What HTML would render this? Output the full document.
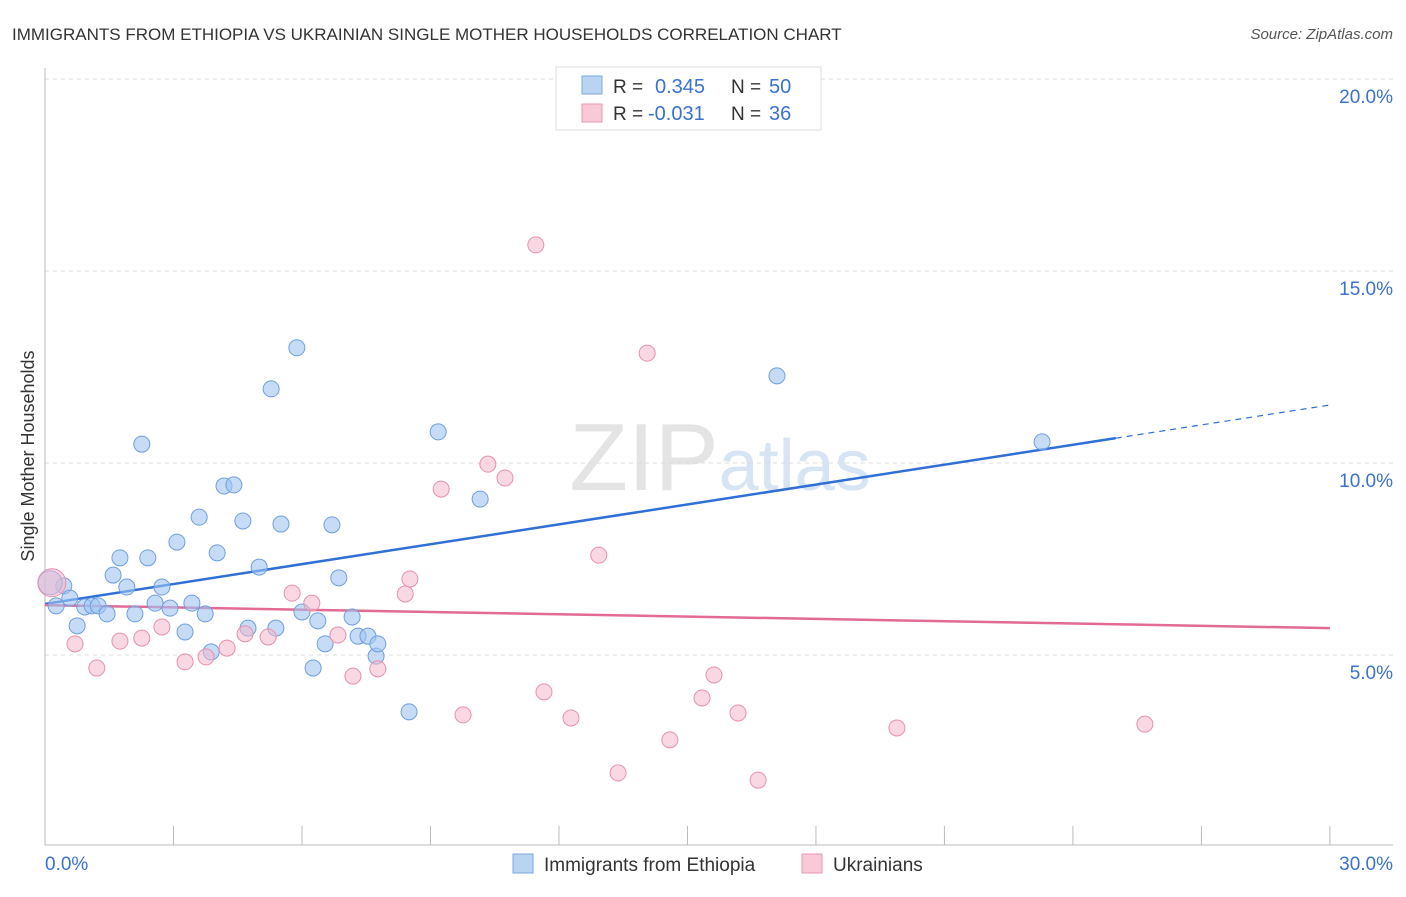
<!DOCTYPE html>
<html><head><meta charset="utf-8"><style>
body{margin:0;background:#fff;font-family:"Liberation Sans",sans-serif}
svg text{font-family:"Liberation Sans",sans-serif}
</style></head><body>
<svg id="chart" width="1406" height="892">
<text x="12" y="40" font-size="17" fill="#333">IMMIGRANTS FROM ETHIOPIA VS UKRAINIAN SINGLE MOTHER HOUSEHOLDS CORRELATION CHART</text>
<text x="1393" y="39" font-size="15" fill="#555" font-style="italic" text-anchor="end">Source: ZipAtlas.com</text>
<text x="720" y="490" font-size="96" fill="#e4e4e4" text-anchor="middle" font-family="Liberation Serif">ZIP<tspan fill="#d6e4f4" font-family="Liberation Sans" font-size="72">atlas</tspan></text>
<text transform="translate(34,456) rotate(-90)" font-size="18" fill="#333" text-anchor="middle">Single Mother Households</text>
<g id="grid"></g><g id="axes"></g><g id="trends"></g><g id="points"></g>
<g>
<rect x="556" y="67" width="265" height="63" fill="#fff" stroke="#ddd"/>
<rect x="582" y="76" width="20" height="18" fill="#b9d3f3" stroke="#7aa8e0"/>
<text x="613" y="93" font-size="19" fill="#333">R =</text><text x="655" y="93" font-size="20" fill="#3a72d0">0.345</text>
<text x="731" y="93" font-size="19" fill="#333">N =</text><text x="769" y="93" font-size="20" fill="#3a72d0">50</text>
<rect x="582" y="104" width="20" height="18" fill="#f9c9d7" stroke="#e898b0"/>
<text x="613" y="120" font-size="19" fill="#333">R =</text><text x="648" y="120" font-size="20" fill="#3a72d0">-0.031</text>
<text x="731" y="120" font-size="19" fill="#333">N =</text><text x="769" y="120" font-size="20" fill="#3a72d0">36</text>
</g>
<g>
<rect x="513" y="854" width="20" height="19" fill="#b9d3f3" stroke="#7aa8e0"/>
<text x="544" y="871" font-size="19" fill="#333">Immigrants from Ethiopia</text>
<rect x="802" y="854" width="20" height="19" fill="#f9c9d7" stroke="#e898b0"/>
<text x="833" y="871" font-size="19" fill="#333">Ukrainians</text>
</g>
</svg>
<script>
const blueX=[0.26,0.44,0.58,0.75,0.93,1.10,1.24,1.45,1.59,1.75,1.91,2.10,2.26,2.40,2.57,2.73,2.92,3.08,3.27,3.43,3.60,3.74,3.88,4.02,4.18,4.41,4.62,4.74,5.00,5.28,5.39,5.51,5.88,6.00,6.26,6.37,6.54,6.70,6.86,7.17,7.31,7.54,7.73,7.77,8.50,9.18,10.16,17.09,23.28,0.12];
const blueY=[6.28,6.80,6.48,5.76,6.25,6.28,6.28,6.07,7.08,7.53,6.77,6.07,10.49,7.53,6.35,6.77,6.22,7.94,5.60,6.35,8.59,6.07,5.08,7.66,9.40,9.43,8.49,5.70,7.29,11.93,5.70,8.41,13.0,6.12,4.66,5.89,5.29,8.39,7.01,5.99,5.49,5.49,4.97,5.29,3.52,10.81,9.06,12.27,10.55,6.88];
const pinkX=[0.16,0.70,1.21,1.75,2.26,2.73,3.27,3.76,4.25,4.67,5.21,5.77,6.23,6.84,7.19,7.77,8.41,8.52,9.25,9.76,10.34,10.74,11.46,11.65,12.28,12.93,13.38,14.06,14.59,15.34,15.62,16.18,16.65,19.89,25.68,13.80];
const pinkY=[6.88,5.29,4.66,5.36,5.44,5.73,4.82,4.95,5.18,5.55,5.47,6.61,6.35,5.52,4.45,4.64,6.59,6.98,9.32,3.44,9.97,9.61,15.68,4.04,3.36,7.60,1.93,12.86,2.79,3.88,4.48,3.49,1.74,3.10,3.20,19.27];
const blueTrend=[6.33,11.51];
const pinkTrend=[6.30,5.70];
const yTicks=[5,10,15,20];
const xTicks=[0,3,6,9,12,15,18,21,24,27,30];
const X=v=>45+v*42.83, Y=v=>847-v*38.4;
const NS="http://www.w3.org/2000/svg";
function mk(tag,attrs,parent){const e=document.createElementNS(NS,tag);for(const k in attrs)e.setAttribute(k,attrs[k]);document.getElementById(parent).appendChild(e);return e;}
yTicks.forEach(t=>{
 const l=mk('line',{x1:45,x2:1393,y1:Y(t),y2:Y(t),stroke:'#ddd','stroke-dasharray':'4,4'},'grid');
 
 
 const tx=mk('text',{x:1393,y:Y(t)+24,'font-size':19,fill:'#3a72d0','text-anchor':'end'},'grid');
 tx.textContent=t.toFixed(1)+'%';
 
 
});
const ax=mk('line',{x1:45,x2:1393,y1:845,y2:845,stroke:'#bbb'},'axes');


const ay=mk('line',{x1:45,x2:45,y1:68,y2:845,stroke:'#bbb'},'axes');


xTicks.forEach(t=>{
 const l=mk('line',{x1:X(t),x2:X(t),y1:826,y2:845,stroke:'#bbb'},'axes');
 
 
});
[[0,'0.0%','start',45],[30,'30.0%','end',1393]].forEach(a=>{
 const tx=mk('text',{x:a[3],y:870,'font-size':19,fill:'#3a72d0','text-anchor':a[2]},'axes');
 tx.textContent=a[1];
 
 
});
const b1=mk('line',{x1:X(0),y1:Y(blueTrend[0]),x2:X(25),y2:Y(blueTrend[0]+(blueTrend[1]-blueTrend[0])*25/30),stroke:'#2f6fd6','stroke-width':2.5},'trends');


const b2=mk('line',{x1:X(25),y1:Y(blueTrend[0]+(blueTrend[1]-blueTrend[0])*25/30),x2:X(30),y2:Y(blueTrend[1]),stroke:'#2f6fd6','stroke-width':1.2,'stroke-dasharray':'6,5'},'trends');


const p1=mk('line',{x1:X(0),y1:Y(pinkTrend[0]),x2:X(30),y2:Y(pinkTrend[1]),stroke:'#e26a94','stroke-width':2.5},'trends');


blueX.forEach((x,i)=>{
 const c=mk('circle',{cx:X(x),cy:Y(blueY[i]),r:i==49?12:8,fill:'rgba(160,196,240,0.6)',stroke:'#6e9fe0','stroke-width':1},'points');
 
 
});
pinkX.forEach((x,i)=>{
 const c=mk('circle',{cx:X(x),cy:Y(pinkY[i]),r:i==0?14:8,fill:'rgba(246,184,204,0.55)',stroke:'#e890ad','stroke-width':1},'points');
 
 
});
</script>
</body></html>
